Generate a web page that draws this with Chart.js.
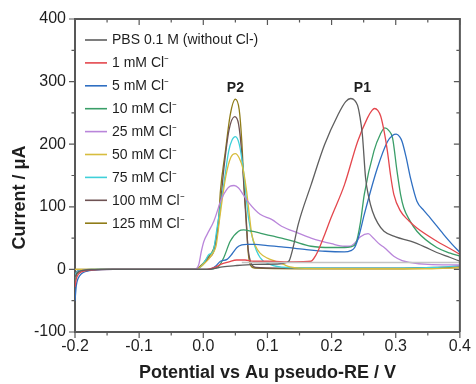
<!DOCTYPE html>
<html>
<head>
<meta charset="utf-8">
<script src="https://cdn.jsdelivr.net/npm/chart.js@4.4.1/dist/chart.umd.min.js"></script>
<style>
  html, body { margin: 0; padding: 0; background: #ffffff; }
  canvas { display: block; }
</style>
</head>
<body>
<canvas id="cv" width="476" height="384"></canvas>
<script>
// Linear sweeps: potential (V vs Au pseudo-RE) and current (µA)
const pbs = [[-0.2,-12],[-0.197,-6],[-0.193,-3],[-0.187,-1.5],[-0.175,-0.5],[-0.15,0],[0.0,0],[0.015,1],[0.03,4],[0.05,6],[0.08,8],[0.12,9],[0.13,11],[0.134,14],[0.14,35],[0.148,72],[0.168,135],[0.189,199],[0.21,247],[0.222,268],[0.23,273],[0.236,270],[0.2405,262],[0.244,245],[0.248,215],[0.253,146],[0.258,115],[0.2637,93],[0.272,74],[0.2817,61],[0.30,52],[0.323,45],[0.345,36],[0.364,27],[0.385,19],[0.4,13]];
const cl1 = [[-0.2,-28],[-0.198,-15],[-0.195,-8],[-0.19,-4],[-0.18,-1.5],[-0.165,-0.5],[-0.14,0],[0.0,0],[0.01,1],[0.02,4],[0.027,8],[0.04,12],[0.052,15],[0.065,15],[0.078,13],[0.1,13],[0.14,12],[0.168,13],[0.172,17],[0.1787,29],[0.189,55],[0.199,82],[0.22,135],[0.2405,204],[0.256,242],[0.263,254],[0.267,257],[0.272,254],[0.2765,245],[0.282,220],[0.287,189],[0.292,150],[0.297,120],[0.3075,93],[0.32,78],[0.333,66],[0.364,45],[0.385,33],[0.4,24]];
const cl5 = [[-0.2,-50],[-0.198,-26],[-0.195,-14],[-0.19,-7],[-0.182,-3],[-0.17,-1],[-0.14,0],[0.0,0],[0.012,1],[0.02,6],[0.0267,13],[0.037,16],[0.045,25],[0.0525,35],[0.06,39],[0.068,40],[0.081,40],[0.1,38],[0.122,36],[0.158,32],[0.19,29],[0.22,28],[0.23,30],[0.236,35],[0.243,55],[0.251,88],[0.2714,162],[0.287,204],[0.295,214],[0.3008,216],[0.306,212],[0.31,204],[0.316,180],[0.323,146],[0.333,109],[0.344,94],[0.354,82],[0.3745,56],[0.388,40],[0.4,27]];
const cl10 = [[-0.2,-20],[-0.198,-10],[-0.195,-5],[-0.19,-2.5],[-0.18,-1],[-0.16,0],[0.0,0],[0.015,1],[0.024,5],[0.032,19],[0.042,45],[0.055,61],[0.063,63],[0.075,61],[0.0885,58],[0.122,50],[0.14,45],[0.168,37],[0.2,35],[0.22,35],[0.23,36],[0.238,42],[0.245,75],[0.251,120],[0.266,189],[0.276,216],[0.283,226],[0.289,222],[0.295,210],[0.302,157],[0.3075,120],[0.3126,98],[0.322,78],[0.333,61],[0.364,35],[0.385,26],[0.4,21]];
const cl25 = [[-0.2,-18],[-0.198,-9],[-0.195,-4],[-0.19,-2],[-0.18,-1],[-0.16,0],[-0.015,0],[-0.01,2],[-0.007,8],[-0.003,29],[0.001,45],[0.006,56],[0.0164,77],[0.029,114],[0.042,133],[0.048,134],[0.055,130],[0.062,120],[0.0705,107],[0.0885,88],[0.1065,80],[0.122,69],[0.148,58],[0.168,50],[0.2,41],[0.22,37],[0.228,37],[0.235,41],[0.245,52],[0.257,57],[0.265,50],[0.275,40],[0.282,35],[0.297,21],[0.31,14],[0.323,11],[0.35,8],[0.4,7]];
const cl50 = [[-0.2,0],[-0.012,0],[-0.006,3],[0.0,8],[0.008,16],[0.015,26],[0.02,38],[0.026,85],[0.035,148],[0.043,179],[0.05,185],[0.056,178],[0.062,160],[0.0675,125],[0.072,85],[0.0756,56],[0.081,38],[0.0885,26],[0.1,18],[0.115,12],[0.125,8],[0.135,4],[0.15,2],[0.25,1],[0.35,1],[0.4,3]];
const cl75 = [[-0.2,-10],[-0.198,-5],[-0.195,-2.5],[-0.19,-1],[-0.175,0],[-0.012,0],[-0.005,3],[0.003,14],[0.009,24],[0.015,28],[0.022,70],[0.0318,135],[0.0396,189],[0.045,207],[0.05,212],[0.056,200],[0.0627,157],[0.0705,82],[0.078,45],[0.0885,19],[0.104,8],[0.13,3],[0.2,2],[0.3,2],[0.36,3],[0.4,6]];
const cl100 = [[-0.2,-8],[-0.198,-4],[-0.195,-2],[-0.19,-1],[-0.175,0],[-0.012,0],[-0.005,4],[0.0,8],[0.008,18],[0.016,28],[0.024,75],[0.032,160],[0.04,222],[0.049,244],[0.055,232],[0.06,185],[0.065,105],[0.07,32],[0.075,9],[0.082,3],[0.12,2],[0.3,2],[0.4,4]];
const cl125 = [[-0.2,0],[-0.012,0],[-0.005,5],[0.0,10],[0.006,18],[0.012,25],[0.018,40],[0.024,82],[0.0267,125],[0.0345,189],[0.042,247],[0.05,272],[0.056,255],[0.06,205],[0.063,143],[0.067,80],[0.07,27],[0.074,6],[0.08,2],[0.15,1],[0.3,1],[0.4,3]];
const blankLine = [[0.06,11],[0.4,11]];

const seriesLabels = ['PBS 0.1 M (without Cl-)', '1 mM Cl\u207B', '5 mM Cl\u207B', '10 mM Cl\u207B', '25 mM Cl\u207B', '50 mM Cl\u207B', '75 mM Cl\u207B', '100 mM Cl\u207B', '125 mM Cl\u207B'];
const seriesData = [pbs, cl1, cl5, cl10, cl25, cl50, cl75, cl100, cl125];
const seriesColors = ['#5e5e5e', '#e4474d', '#2f6fc2', '#3a9e68', '#b985da', '#d7bd3e', '#3fd0d9', '#6e5253', '#8f7c18'];

// Peak markers
const peakNames = ['P2', 'P1'];
const peakPotential = [0.05, 0.248];
const peakCurrent = [290, 290];

// Axis ranges and tick steps
const xMin = -0.2, xMax = 0.4, xStep = 0.1;
const yMin = -100, yMax = 400, yStep = 100;

const FONT = '"Liberation Sans", Arial, Helvetica, sans-serif';
const AXIS_COLOR = '#585858';
const TEXT_COLOR = '#1e1e1e';

const toXY = pts => pts.map(p => ({ x: p[0], y: p[1] }));

const datasets = [{
  label: '',
  data: toXY(blankLine),
  borderColor: '#c4c4c4',
  borderWidth: 1.3,
  pointRadius: 0,
  fill: false,
  hideInLegend: true
}];
seriesData.forEach((pts, i) => {
  datasets.push({
    label: seriesLabels[i],
    data: toXY(pts),
    borderColor: seriesColors[i],
    borderWidth: 1.3,
    pointRadius: 0,
    fill: false,
    cubicInterpolationMode: 'monotone'
  });
});

// Frame, minor/inner ticks, inset legend, peak labels and y title
const decorations = {
  id: 'decorations',
  afterDraw(chart) {
    const ctx = chart.ctx;
    const a = chart.chartArea;
    const xs = chart.scales.x, ys = chart.scales.y;
    ctx.save();

    // top and right frame lines
    ctx.strokeStyle = AXIS_COLOR;
    ctx.lineWidth = 2;
    ctx.beginPath();
    ctx.moveTo(a.left, a.top);
    ctx.lineTo(a.right, a.top);
    ctx.lineTo(a.right, a.bottom);
    ctx.stroke();

    // tick marks
    ctx.lineWidth = 1.2;
    const major = 6, minor = 3.5;
    const xt = xs.ticks.map(t => xs.getPixelForValue(t.value));
    const yt = ys.ticks.map(t => ys.getPixelForValue(t.value));
    const xm = [], ym = [];
    for (let i = 0; i < xt.length - 1; i++) xm.push((xt[i] + xt[i + 1]) / 2);
    for (let i = 0; i < yt.length - 1; i++) ym.push((yt[i] + yt[i + 1]) / 2);
    ctx.beginPath();
    xt.forEach(px => {
      ctx.moveTo(px, a.bottom); ctx.lineTo(px, a.bottom + major);
      ctx.moveTo(px, a.top); ctx.lineTo(px, a.top + major);
    });
    xm.forEach(px => {
      ctx.moveTo(px, a.bottom); ctx.lineTo(px, a.bottom + minor);
      ctx.moveTo(px, a.top); ctx.lineTo(px, a.top + minor);
    });
    yt.forEach(py => {
      ctx.moveTo(a.left, py); ctx.lineTo(a.left - major, py);
      ctx.moveTo(a.right, py); ctx.lineTo(a.right - major, py);
    });
    ym.forEach(py => {
      ctx.moveTo(a.left, py); ctx.lineTo(a.left - minor, py);
      ctx.moveTo(a.right, py); ctx.lineTo(a.right - minor, py);
    });
    ctx.stroke();

    // inset legend
    ctx.font = '14px ' + FONT;
    ctx.textBaseline = 'middle';
    ctx.textAlign = 'left';
    seriesLabels.forEach((lab, i) => {
      const y = a.top + 21 + i * 22.9;
      ctx.strokeStyle = seriesColors[i];
      ctx.lineWidth = 1.6;
      ctx.beginPath();
      ctx.moveTo(a.left + 10, y);
      ctx.lineTo(a.left + 32, y);
      ctx.stroke();
      ctx.fillStyle = TEXT_COLOR;
      ctx.fillText(lab, a.left + 37, y + 0.5);
    });

    // peak labels
    ctx.font = 'bold 14px ' + FONT;
    ctx.textAlign = 'center';
    peakNames.forEach((n, i) => {
      ctx.fillText(n, xs.getPixelForValue(peakPotential[i]), ys.getPixelForValue(peakCurrent[i]));
    });

    // y axis title
    ctx.font = 'bold 18px ' + FONT;
    ctx.translate(20, (a.top + a.bottom) / 2 + 22);
    ctx.rotate(-Math.PI / 2);
    ctx.fillText('Current / \u03BCA', 0, 0);
    ctx.restore();
  }
};

new Chart(document.getElementById('cv'), {
  type: 'line',
  data: { datasets },
  options: {
    responsive: false,
    animation: false,
    events: [],
    layout: { padding: { top: 19, right: 13, left: 0, bottom: 0 } },
    plugins: {
      legend: { display: false },
      tooltip: { enabled: false }
    },
    scales: {
      x: {
        type: 'linear',
        min: xMin, max: xMax,
        afterFit(s) { s.height = 52; },
        ticks: {
          stepSize: xStep,
          autoSkip: false,
          maxRotation: 0,
          padding: 5,
          color: TEXT_COLOR,
          font: { family: FONT, size: 16 },
          callback: v => Number(v).toFixed(1)
        },
        grid: { display: false, drawTicks: false },
        border: { display: true, color: AXIS_COLOR, width: 2 },
        title: {
          display: true,
          text: 'Potential vs Au pseudo-RE / V',
          color: TEXT_COLOR,
          font: { family: FONT, size: 18, weight: 'bold' },
          padding: { top: 0, bottom: 0 }
        }
      },
      y: {
        type: 'linear',
        min: yMin, max: yMax,
        afterFit(s) { s.width = 75; },
        ticks: {
          stepSize: yStep,
          padding: 9,
          color: TEXT_COLOR,
          font: { family: FONT, size: 16 }
        },
        grid: { display: false, drawTicks: false },
        border: { display: true, color: AXIS_COLOR, width: 2 }
      }
    }
  },
  plugins: [decorations]
});
</script>
</body>
</html>
